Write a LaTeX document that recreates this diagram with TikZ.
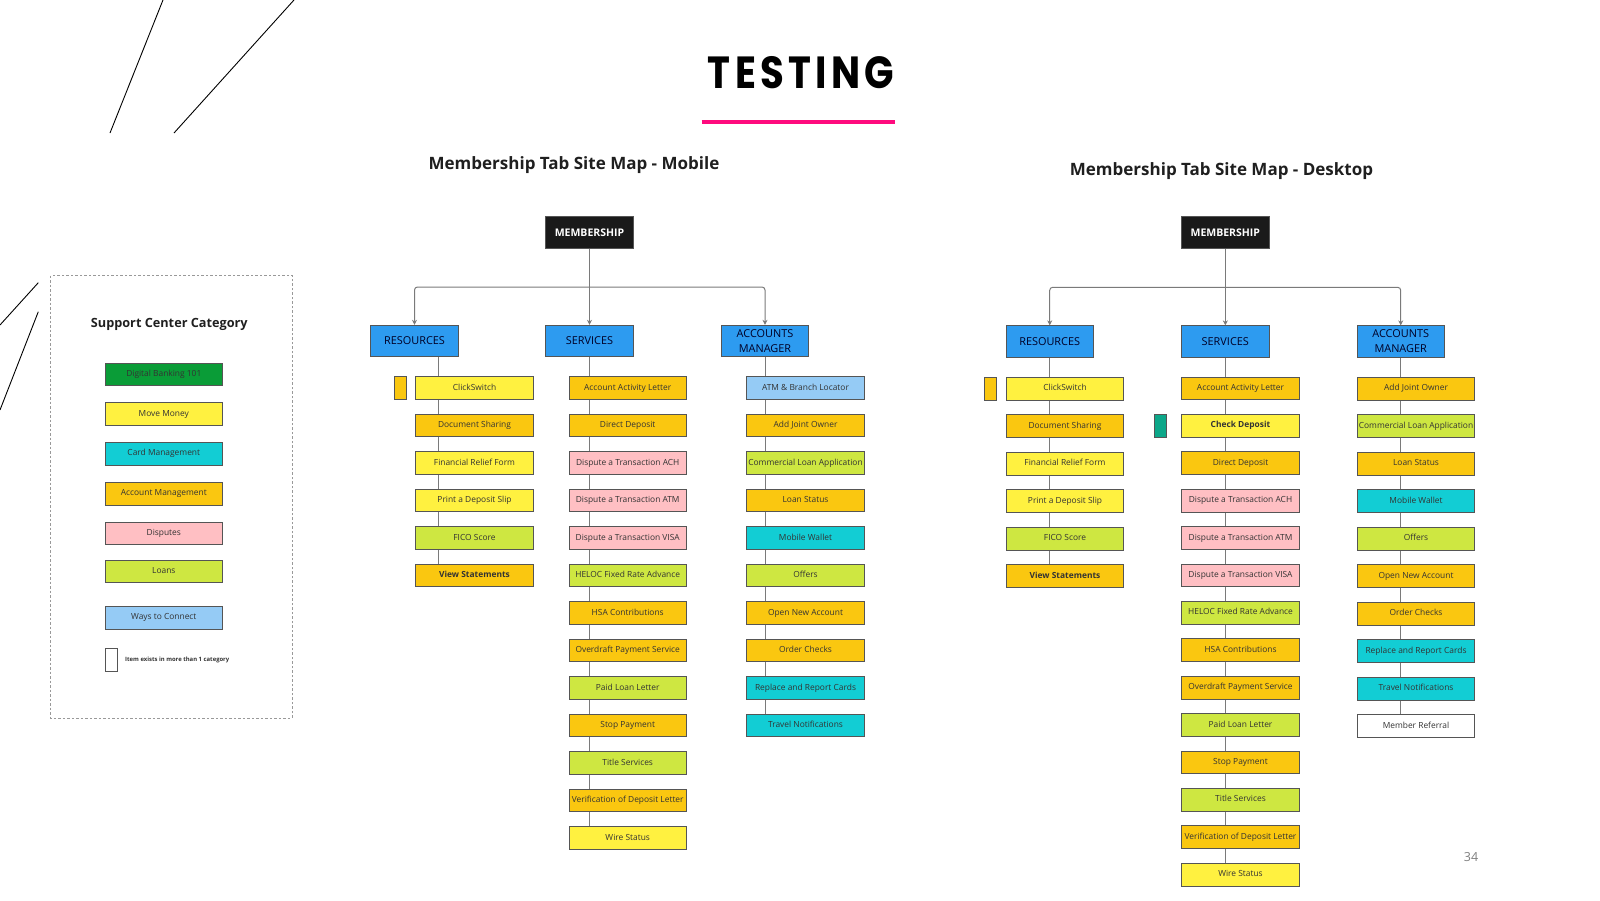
\documentclass[tikz,border=0pt]{standalone}
\usepackage{fontspec}
\setmainfont{Open Sans}
\newfontfamily\titlefont[LetterSpace=11]{Poppins}
\usetikzlibrary{arrows.meta,backgrounds}
\definecolor{mm}{HTML}{FFF140}
\definecolor{am}{HTML}{FAC710}
\definecolor{dp}{HTML}{FFBFC3}
\definecolor{ln}{HTML}{CEE741}
\definecolor{cm}{HTML}{12CDD4}
\definecolor{wc}{HTML}{95CBF5}
\definecolor{db}{HTML}{0A9C37}
\definecolor{tl}{HTML}{0CA789}
\definecolor{lvblue}{HTML}{2D9BF0}
\definecolor{rootc}{HTML}{1A1A1A}
\definecolor{boxline}{HTML}{555555}
\definecolor{connc}{HTML}{7A7A7A}
\definecolor{txt}{HTML}{333333}
\definecolor{pinkline}{HTML}{FF0A7E}
\definecolor{wh}{HTML}{FFFFFF}
\begin{document}
\begin{tikzpicture}[x=1pt,y=-1pt,
  item/.style={draw=boxline,line width=0.8pt,minimum width=117.6pt,minimum height=22.7pt,inner sep=0pt,
    font=\fontsize{8.4}{9}\selectfont,text=txt,text height=5.9pt,text depth=1.6pt},
  tag/.style={draw=boxline,line width=0.8pt,minimum width=12.5pt,minimum height=22.7pt,inner sep=0pt},
  lvl/.style={draw=boxline,line width=0.8pt,fill=lvblue,minimum width=87.5pt,minimum height=31.5pt,inner sep=0pt,
    font=\fontsize{10.9}{15}\selectfont,text=black!85!blue,align=center},
  rootbox/.style={draw=boxline,line width=0.8pt,fill=rootc,minimum width=87.5pt,minimum height=31.5pt,inner sep=0pt,
    font=\bfseries\fontsize{10.5}{12}\selectfont,text=white},
  conn/.style={draw=connc,line width=1pt},
  arr/.style={-{Stealth[length=5pt,width=5pt]}},
  subt/.style={font=\bfseries\fontsize{17}{20}\selectfont,text=black!88,anchor=base,inner sep=0pt},
  diag/.style={draw=black,line width=0.9pt}
]
\useasboundingbox (0,0) rectangle (1600,900);

% decorative strokes
\draw[diag] (163,0) -- (110,133);
\draw[diag] (294,0) -- (174,133);
\draw[diag] (38.3,282.7) -- (0,325);
\draw[diag] (38.3,311.7) -- (0,410);

% title
\node[inner sep=0pt] (title) at (801,72.5) {\scalebox{0.86}[1]{\titlefont\bfseries\fontsize{45}{45}\selectfont TESTING}};
\draw[pinkline,line width=4pt] (701.7,122) -- (895,122);

\node[subt] (subm) at (574,169.5) {Membership Tab Site Map - Mobile};
\node[subt] (subd) at (1221.5,175.5) {Membership Tab Site Map - Desktop};

% legend
\draw[draw=black!40,line width=1pt,dash pattern=on 2.5pt off 2pt] (50.7,275.7) rectangle (292.3,718);
\node[anchor=base,inner sep=0pt,font=\bfseries\fontsize{12.7}{15}\selectfont,text=black!88] (legt) at (169.3,327.7) {Support Center Category};
\node[item,fill=db] (lg1) at (163.8,374.5) {Digital Banking 101};
\node[item,fill=mm] (lg2) at (163.8,414) {Move Money};
\node[item,fill=cm] (lg3) at (163.8,453.7) {Card Management};
\node[item,fill=am] (lg4) at (163.8,493.7) {Account Management};
\node[item,fill=dp] (lg5) at (163.8,533.5) {Disputes};
\node[item,fill=ln] (lg6) at (163.8,571.3) {Loans};
\node[item,fill=wc] (lg7) at (163.8,617.8) {Ways to Connect};
\node[tag,fill=white] (lg8) at (111.3,659.6) {};
\node[anchor=west,inner sep=0pt,font=\bfseries\fontsize{5.9}{7}\selectfont,text=txt] (lg8t) at (125,660) {Item exists in more than 1 category};

% ===== Mobile =====
\node[rootbox] (mroot) at (589.5,232.5) {MEMBERSHIP};
\node[lvl] (mres) at (414.5,341) {RESOURCES};
\node[lvl] (msrv) at (589.5,341) {SERVICES};
\node[lvl] (macc) at (765,341) {ACCOUNTS\\MANAGER};
\coordinate (mj) at (589.5,287);

\foreach \t/\c [count=\i] in {ClickSwitch/mm, Document Sharing/am, Financial Relief Form/mm, Print a Deposit Slip/mm, FICO Score/ln, {\bfseries View Statements}/am}
  \node[item,fill=\c] (mr\i) at (474.5,{388+(\i-1)*37.5}) {\t};
\foreach \t/\c [count=\i] in {Account Activity Letter/am, Direct Deposit/am, Dispute a Transaction ACH/dp, Dispute a Transaction ATM/dp, Dispute a Transaction VISA/dp, HELOC Fixed Rate Advance/ln, HSA Contributions/am, Overdraft Payment Service/am, Paid Loan Letter/ln, Stop Payment/am, Title Services/ln, Verification of Deposit Letter/am, Wire Status/mm}
  \node[item,fill=\c] (ms\i) at (627.7,{388+(\i-1)*37.5}) {\t};
\foreach \t/\c [count=\i] in {ATM \& Branch Locator/wc, Add Joint Owner/am, Commercial Loan Application/ln, Loan Status/am, Mobile Wallet/cm, Offers/ln, Open New Account/am, Order Checks/am, Replace and Report Cards/cm, Travel Notifications/cm}
  \node[item,fill=\c] (ma\i) at (805.5,{388+(\i-1)*37.5}) {\t};
\node[tag,fill=am] (mtag) at (400.3,388) {};

\draw[conn,arr] (mroot.south) -- (msrv.north);
\draw[conn,arr,rounded corners=3pt] (mj) -| (mres.north);
\draw[conn,arr,rounded corners=3pt] (mj) -| (macc.north);

% ===== Desktop =====
\node[rootbox] (droot) at (1225.3,232.5) {MEMBERSHIP};
\node[lvl] (dres) at (1049.7,341.5) {RESOURCES};
\node[lvl] (dsrv) at (1225.3,341.5) {SERVICES};
\node[lvl] (dacc) at (1400.7,341.5) {ACCOUNTS\\MANAGER};
\coordinate (dj) at (1225.3,287.3);

\foreach \t/\c [count=\i] in {ClickSwitch/mm, Document Sharing/am, Financial Relief Form/mm, Print a Deposit Slip/mm, FICO Score/ln, {\bfseries View Statements}/am}
  \node[item,fill=\c] (dr\i) at (1065,{388.6+(\i-1)*37.5}) {\t};
\foreach \t/\c [count=\i] in {Account Activity Letter/am, {\bfseries Check Deposit}/mm, Direct Deposit/am, Dispute a Transaction ACH/dp, Dispute a Transaction ATM/dp, Dispute a Transaction VISA/dp, HELOC Fixed Rate Advance/ln, HSA Contributions/am, Overdraft Payment Service/am, Paid Loan Letter/ln, Stop Payment/am, Title Services/ln, Verification of Deposit Letter/am, Wire Status/mm}
  \node[item,fill=\c] (ds\i) at (1240.5,{388.4+(\i-1)*37.4}) {\t};
\foreach \t/\c [count=\i] in {Add Joint Owner/am, Commercial Loan Application/ln, Loan Status/am, Mobile Wallet/cm, Offers/ln, Open New Account/am, Order Checks/am, Replace and Report Cards/cm, Travel Notifications/cm, Member Referral/wh}
  \node[item,fill=\c] (da\i) at (1416,{388.6+(\i-1)*37.5}) {\t};
\node[tag,fill=am] (dtag1) at (990.5,388.6) {};
\node[tag,fill=tl] (dtag2) at (1160.3,426.2) {};

\draw[conn,arr] (droot.south) -- (dsrv.north);
\draw[conn,arr,rounded corners=3pt] (dj) -| (dres.north);
\draw[conn,arr,rounded corners=3pt] (dj) -| (dacc.north);

% page number
\node[font=\fontsize{12.5}{14}\selectfont,text=black!50] (pg) at (1471,857) {34};

\begin{pgfonlayer}{background}
  \fill[white] (0,0) rectangle (1600,900);
  \coordinate (mrx) at (438,0);
  \draw[conn] (mres.south -| mrx) -- (mr6.center -| mrx);
  \draw[conn] (msrv.south) -- (msrv.south |- ms13.center);
  \draw[conn] (macc.south) -- (macc.south |- ma10.center);
  \draw[conn] (dres.south) -- (dres.south |- dr6.center);
  \draw[conn] (dsrv.south) -- (dsrv.south |- ds14.center);
  \draw[conn] (dacc.south) -- (dacc.south |- da10.center);
\end{pgfonlayer}
\end{tikzpicture}
\end{document}
